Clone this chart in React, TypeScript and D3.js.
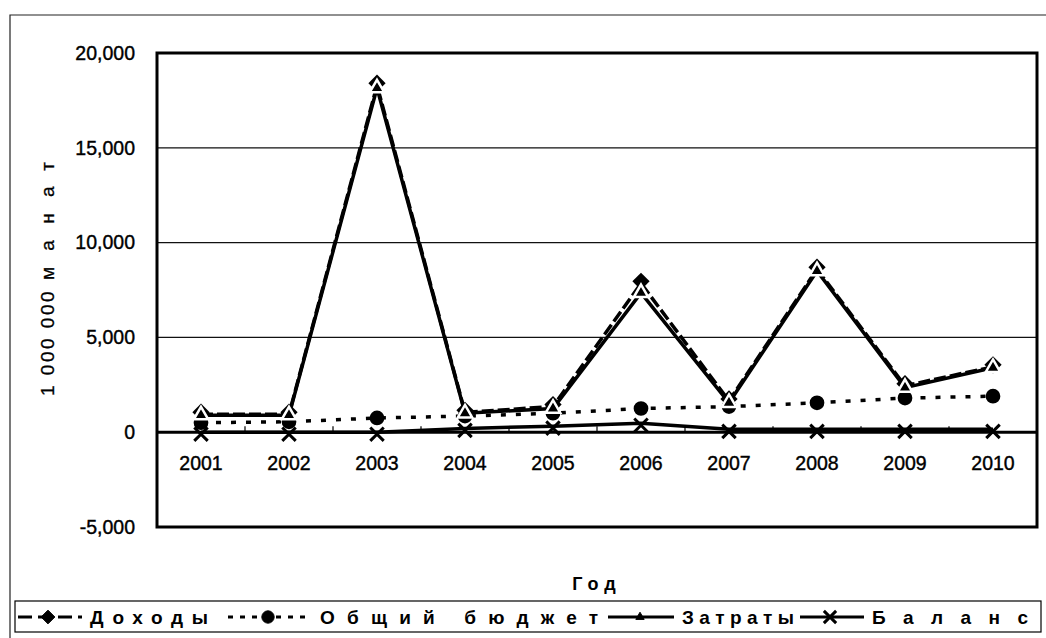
import { useEffect, useRef } from 'react'
import * as d3 from 'd3'

const YEARS = ['2001', '2002', '2003', '2004', '2005', '2006', '2007', '2008', '2009', '2010']
const INCOME = [950, 950, 18300, 1050, 1350, 7850, 1650, 8600, 2450, 3450]
const BUDGET = [500, 550, 750, 850, 1000, 1250, 1350, 1550, 1800, 1900]
const EXPENSES = [900, 900, 18150, 1000, 1250, 7350, 1550, 8500, 2350, 3400]
const BALANCE = [0, 0, 0, 200, 320, 470, 150, 150, 150, 150]
const Y_TICKS = [-5000, 0, 5000, 10000, 15000, 20000]
const SERIES_NAMES = ['Доходы', 'Общий бюджет', 'Затраты', 'Баланс']

const FONT = '"Liberation Sans", Arial, sans-serif'

export default function App() {
  const svgRef = useRef<SVGSVGElement>(null)

  useEffect(() => {
    if (!svgRef.current) return
    const svg = d3.select(svgRef.current)
    svg.selectAll('*').remove()

    const W = 1046
    const H = 638
    const plot = { left: 157, top: 53, right: 1037, bottom: 527 }

    svg.attr('width', W).attr('height', H).attr('viewBox', `0 0 ${W} ${H}`)

    svg.append('rect').attr('width', W).attr('height', H).attr('fill', '#fff')

    // outer chart frame
    svg.append('path')
      .attr('d', `M10,${H + 5} V15 H${W + 5}`)
      .attr('fill', 'none').attr('stroke', '#222').attr('stroke-width', 1.2)

    const x = d3.scaleBand().domain(YEARS).range([plot.left, plot.right])
    const y = d3.scaleLinear().domain([-5000, 20000]).range([plot.bottom, plot.top])
    const cx = (d: string) => (x(d) ?? 0) + x.bandwidth() / 2

    // gridlines
    svg.append('g')
      .selectAll('line')
      .data(Y_TICKS.filter((t) => t !== 0 && t !== -5000 && t !== 20000))
      .join('line')
      .attr('x1', plot.left).attr('x2', plot.right)
      .attr('y1', (d) => y(d)).attr('y2', (d) => y(d))
      .attr('stroke', '#111').attr('stroke-width', 1.2)

    // plot frame
    svg.append('rect')
      .attr('x', plot.left).attr('y', plot.top)
      .attr('width', plot.right - plot.left).attr('height', plot.bottom - plot.top)
      .attr('fill', 'none').attr('stroke', '#000').attr('stroke-width', 3)

    // y axis labels
    svg.append('g')
      .attr('transform', `translate(${plot.left},0)`)
      .call(d3.axisLeft(y).tickValues(Y_TICKS).tickSize(0).tickPadding(22)
        .tickFormat((d) => (d as number).toLocaleString('en-US')))
      .call((g) => g.select('.domain').remove())
      .selectAll('text')
      .attr('font-size', 19.5).attr('font-family', FONT).attr('fill', '#000')
      .attr('stroke', '#000').attr('stroke-width', 0.4)

    // zero axis with category ticks
    const zero = svg.append('g').attr('transform', `translate(0,${y(0)})`)
    zero.append('line')
      .attr('x1', plot.left).attr('x2', plot.right)
      .attr('stroke', '#000').attr('stroke-width', 3)
    zero.selectAll('line.tk')
      .data(YEARS.slice(1))
      .join('line')
      .attr('class', 'tk')
      .attr('x1', (d) => x(d) ?? 0).attr('x2', (d) => x(d) ?? 0)
      .attr('y1', 0).attr('y2', -6)
      .attr('stroke', '#000').attr('stroke-width', 1.2)
    zero.selectAll('text')
      .data(YEARS)
      .join('text')
      .attr('x', (d) => cx(d)).attr('y', 38)
      .attr('text-anchor', 'middle')
      .attr('font-size', 19.5).attr('font-family', FONT)
      .attr('stroke', '#000').attr('stroke-width', 0.4)
      .text((d) => d)

    const line = (vals: number[]) =>
      d3.line<number>().x((_, i) => cx(YEARS[i])).y((v) => y(v))(vals) ?? ''

    const diamond = d3.symbol().type(d3.symbolDiamond2).size(190)
    const circle = d3.symbol().type(d3.symbolCircle).size(170)
    const triangle = d3.symbol().type(d3.symbolTriangle).size(90)
    const cross = d3.symbol().type(d3.symbolX).size(120)

    // Доходы
    svg.append('path').attr('d', line(INCOME))
      .attr('fill', 'none').attr('stroke', '#000').attr('stroke-width', 3.5)
      .attr('stroke-dasharray', '12,4')
    svg.append('g').selectAll('path').data(INCOME).join('path')
      .attr('d', diamond())
      .attr('transform', (v, i) => `translate(${cx(YEARS[i])},${y(v) - 2})`)
      .attr('fill', '#000')

    // Общий бюджет
    svg.append('path').attr('d', line(BUDGET))
      .attr('fill', 'none').attr('stroke', '#000').attr('stroke-width', 3.5)
      .attr('stroke-dasharray', '5,10')
    svg.append('g').selectAll('path').data(BUDGET).join('path')
      .attr('d', circle())
      .attr('transform', (v, i) => `translate(${cx(YEARS[i])},${y(v)})`)
      .attr('fill', '#000')

    // Затраты
    svg.append('path').attr('d', line(EXPENSES))
      .attr('fill', 'none').attr('stroke', '#000').attr('stroke-width', 3.5)
    svg.append('g').selectAll('path').data(EXPENSES).join('path')
      .attr('d', triangle())
      .attr('transform', (v, i) => `translate(${cx(YEARS[i])},${y(v)})`)
      .attr('fill', '#000').attr('stroke', '#fff').attr('stroke-width', 2.5)

    // Баланс
    svg.append('path').attr('d', line(BALANCE))
      .attr('fill', 'none').attr('stroke', '#000').attr('stroke-width', 3.5)
    svg.append('g').selectAll('path').data(BALANCE).join('path')
      .attr('d', cross())
      .attr('transform', (v, i) => `translate(${cx(YEARS[i])},${y(v) + 2})`)
      .attr('fill', '#000').attr('stroke', '#000').attr('stroke-width', 3)

    // y axis title: compact number, spaced word
    svg.append('text')
      .attr('transform', `translate(54,396) rotate(-90)`)
      .attr('font-size', 19).attr('font-family', FONT)
      .attr('stroke', '#000').attr('stroke-width', 0.3)
      .attr('letter-spacing', 2.5)
      .text('1 000 000')
    svg.append('text')
      .attr('transform', `translate(54,280) rotate(-90)`)
      .attr('font-size', 19).attr('font-family', FONT)
      .attr('stroke', '#000').attr('stroke-width', 0.3)
      .attr('textLength', 118).attr('lengthAdjust', 'spacing')
      .text('манат')

    svg.append('text')
      .attr('x', 597).attr('y', 590)
      .attr('text-anchor', 'middle')
      .attr('font-size', 18).attr('font-family', FONT).attr('font-weight', 700)
      .attr('letter-spacing', 6)
      .text('Год')

    // legend
    const lg = svg.append('g')
    lg.append('rect')
      .attr('x', 15).attr('y', 601).attr('width', 1026).attr('height', 31)
      .attr('fill', '#fff').attr('stroke', '#000').attr('stroke-width', 1.2)

    const ly = 617
    const syms = [
      { x1: 18, x2: 82, m: 48, dash: '14,6', sym: d3.symbol().type(d3.symbolDiamond2).size(120)(), tx: 90, tw: 118 },
      { x1: 228, x2: 312, m: 268, dash: '5,7', sym: d3.symbol().type(d3.symbolCircle).size(120)(), tx: 320, tw: 278 },
      { x1: 608, x2: 674, m: 640, dash: null, sym: d3.symbol().type(d3.symbolTriangle).size(30)(), tx: 682, tw: 112 },
      { x1: 800, x2: 864, m: 830, dash: null, sym: d3.symbol().type(d3.symbolX).size(100)(), tx: 872, tw: 156 },
    ]
    SERIES_NAMES.forEach((name, i) => {
      const it = syms[i]
      lg.append('line')
        .attr('x1', it.x1).attr('x2', it.x2).attr('y1', ly).attr('y2', ly)
        .attr('stroke', '#000').attr('stroke-width', 3)
        .attr('stroke-dasharray', it.dash)
      lg.append('path')
        .attr('d', it.sym)
        .attr('transform', `translate(${it.m},${ly})`)
        .attr('fill', '#000').attr('stroke', '#000').attr('stroke-width', i === 3 ? 3 : 1)
      lg.append('text')
        .attr('x', it.tx).attr('y', ly + 7)
        .attr('font-size', 19).attr('font-family', FONT).attr('font-weight', 700)
        .attr('textLength', it.tw).attr('lengthAdjust', 'spacing')
        .text(name)
    })
  }, [])

  return <svg ref={svgRef} style={{ position: 'absolute', left: 0, top: 0 }} />
}
